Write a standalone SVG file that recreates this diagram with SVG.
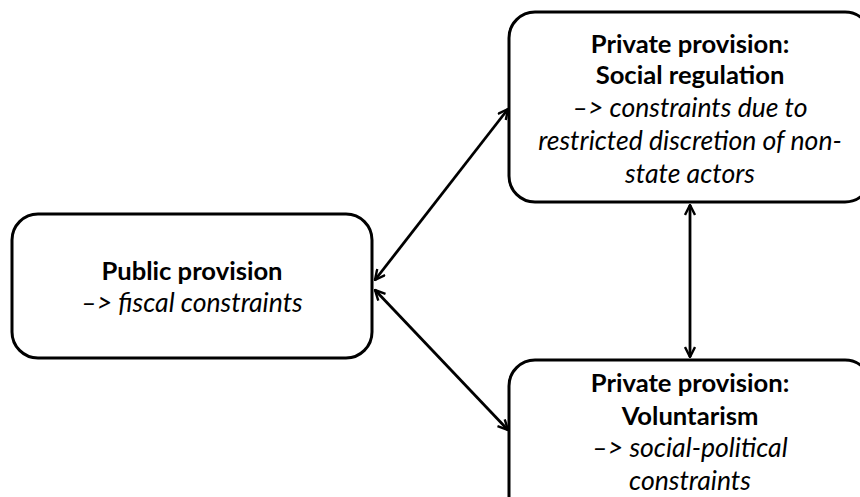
<svg xmlns="http://www.w3.org/2000/svg" width="860" height="497" viewBox="0 0 860 497">
<style>
.box{fill:#fff;stroke:#000;stroke-width:3}
.b{font-family:Lato,"Open Sans","Liberation Sans",sans-serif;font-weight:bold;font-size:25.6px;fill:#000;text-anchor:middle}
.i{font-family:Lato,"Open Sans","Liberation Sans",sans-serif;font-style:italic;font-size:26.6px;fill:#000;text-anchor:middle}
.c{stroke:#000;stroke-width:2.8;fill:none;marker-start:url(#ah);marker-end:url(#ah)}
</style>
<defs>
<marker id="ah" viewBox="0 0 12 12" refX="11" refY="6" markerWidth="12" markerHeight="12" markerUnits="userSpaceOnUse" orient="auto-start-reverse">
<path d="M1,1 L11,6 L1,11" fill="none" stroke="#000" stroke-width="2.4"/>
</marker>
</defs>
<g id="public">
<rect class="box" x="12" y="214" width="360" height="144" rx="26"/>
<text class="b" x="192" y="280">Public provision</text>
<text class="i" x="192" y="312">–&gt; fiscal constraints</text>
</g>
<g id="regulation">
<rect class="box" x="509" y="12" width="362" height="190" rx="26"/>
<text class="b" x="690" y="53">Private provision:</text>
<text class="b" x="690" y="84">Social regulation</text>
<text class="i" x="690" y="117">–&gt; constraints due to</text>
<text class="i" x="690" y="150">restricted discretion of non-</text>
<text class="i" x="690" y="183">state actors</text>
</g>
<g id="voluntarism">
<rect class="box" x="509" y="360" width="362" height="190" rx="26"/>
<text class="b" x="690" y="392">Private provision:</text>
<text class="b" x="690" y="425">Voluntarism</text>
<text class="i" x="690" y="457">–&gt; social-political</text>
<text class="i" x="690" y="490">constraints</text>
</g>
<g id="connectors">
<line class="c" x1="375" y1="280" x2="508" y2="109"/>
<line class="c" x1="375" y1="290" x2="508" y2="430"/>
<line class="c" x1="690" y1="205" x2="690" y2="357"/>
</g>
</svg>
